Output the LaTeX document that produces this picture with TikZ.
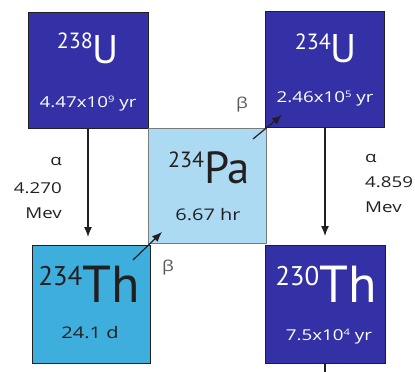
\documentclass[tikz,border=0pt]{standalone}
\usepackage{fontspec}
\setmainfont{PT Sans}
\newfontfamily\smallfont[FakeStretch=1.25]{Open Sans}
\usetikzlibrary{arrows.meta}
\definecolor{darkbox}{RGB}{52,49,166}
\definecolor{pabox}{RGB}{172,218,242}
\definecolor{thbox}{RGB}{62,174,220}
\definecolor{ink}{RGB}{35,31,32}
\newcommand{\isotope}[5]{{\fontsize{#3}{#3}\selectfont\raisebox{#5pt}{#1}}{\fontsize{#4}{#4}\selectfont #2}}
\newcommand{\expo}[1]{\raisebox{5pt}{\fontsize{9}{9}\selectfont #1}}
\begin{document}
\begin{tikzpicture}[x=1pt,y=-1pt,
  box/.style={draw=ink, line width=1pt, anchor=north west, inner sep=0},
  lbl/.style={anchor=base, inner sep=0},
  hl/.style={anchor=base, inner sep=0, font=\smallfont\fontsize{15}{15}\selectfont},
  sideR/.style={anchor=base east, inner sep=0, font=\smallfont\fontsize{15}{15}\selectfont, text=ink},
  sideL/.style={anchor=base west, inner sep=0, font=\smallfont\fontsize{15}{15}\selectfont, text=ink},
  betalbl/.style={inner sep=0, font=\smallfont\fontsize{15}{15}\selectfont, text=ink!75},
  decay/.style={line width=1.2pt, draw=ink, -{Latex[length=10pt,width=8pt]}}]
\useasboundingbox (0,0) rectangle (415,372);
% boxes
\node[box, fill=darkbox, minimum width=120pt, minimum height=116pt] (u238) at (28,12) {};
\node[box, fill=darkbox, minimum width=119pt, minimum height=116pt] (u234) at (265,11) {};
\node[box, fill=pabox, draw=ink!60, minimum width=118pt, minimum height=115pt] (pa) at (148,128) {};
\node[box, fill=thbox, minimum width=118pt, minimum height=118pt] (th234) at (32,245) {};
\node[box, fill=darkbox, minimum width=120pt, minimum height=118pt] (th230) at (265,245) {};
% labels
\node[lbl, text=white] (u238l) at (88,63) {\isotope{238}{U}{22}{40}{15}};
\node[hl, text=white] (u238h) at (88,107) {4.47x10\expo{9} yr};
\node[lbl, text=white] (u234l) at (326,62) {\isotope{234}{U}{22}{40}{13}};
\node[hl, text=white] (u234h) at (325,102) {2.46x10\expo{5} yr};
\node[lbl, text=ink] (pal) at (209,183) {\isotope{234}{Pa}{22}{45}{16}};
\node[hl, text=ink, font=\smallfont\fontsize{16}{16}\selectfont] (pah) at (208,220) {6.67 hr};
\node[lbl, text=ink] (th234l) at (89,302) {\isotope{234}{Th}{27}{52}{17}};
\node[hl, text=ink, font=\smallfont\fontsize{16}{16}\selectfont] (th234h) at (90,338) {24.1 d};
\node[lbl, text=white] (th230l) at (326,302) {\isotope{230}{Th}{27}{52}{17}};
\node[hl, text=white] (th230h) at (329,340) {7.5x10\expo{4} yr};
% alpha decays
\coordinate (a1) at (88,237);
\coordinate (a2) at (325,236);
\draw[decay] (u238.south -| a1) -- (a1);
\draw[decay] (u234.south -| a2) -- (a2);
\node[sideR] (al1a) at (62,165) {α};
\node[sideR] (al1b) at (62,193) {4.270};
\node[sideR] (al1c) at (62,218) {Mev};
\node[sideL] (al2a) at (365,162) {α};
\node[sideL] (al2b) at (365,187) {4.859};
\node[sideL] (al2c) at (365,212) {Mev};
% beta decays
\coordinate (b1s) at (133,260);
\coordinate (b1e) at (162,232);
\coordinate (b2s) at (253,139);
\coordinate (b2e) at (282,115);
\draw[decay] (b1s) -- (b1e);
\draw[decay] (b2s) -- (b2e);
\node[betalbl] (be1) at (168,268) {β};
\node[betalbl] (be2) at (242,105) {β};
% tail below 230Th
\coordinate (tail) at (325,372);
\draw[line width=1.2pt, ink] (th230.south -| tail) -- (tail);
\end{tikzpicture}
\end{document}
